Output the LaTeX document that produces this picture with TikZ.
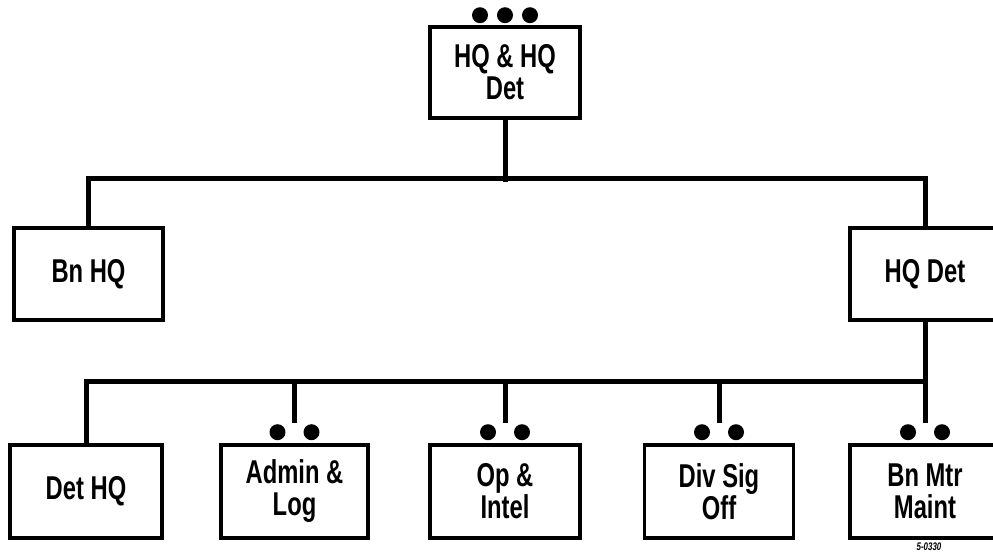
\documentclass[tikz,border=0pt]{standalone}
\usepackage{fontspec}
\setmainfont{Liberation Sans}[FakeStretch=0.72]
\usetikzlibrary{calc}
\begin{document}
\begin{tikzpicture}[x=1pt,y=-1pt,
  unitbox/.style={draw, line width=3.6pt, inner sep=0pt, align=center,
    font=\fontsize{33}{32}\selectfont\bfseries},
  bus/.style={line width=5pt},
  dot/.style={fill=black}]
\clip (0,0) rectangle (993,552);
\fill[white] (0,0) rectangle (993,552);
% nodes
\node[unitbox, minimum width=150pt, minimum height=91pt] (top) at (505,72.5) {HQ \& HQ\\Det};
\node[unitbox, minimum width=149pt, minimum height=92pt] (bnhq) at (88.5,274) {Bn HQ};
\node[unitbox, minimum width=150pt, minimum height=92pt] (hqdet) at (925,274) {HQ Det};
\node[unitbox, minimum width=152pt, minimum height=93pt] (dethq) at (86,491.5) {Det HQ};
\node[unitbox, minimum width=147pt, minimum height=93pt] (admin) at (294.5,491.5) {Admin \&\\Log};
\node[unitbox, minimum width=150pt, minimum height=93pt] (opint) at (505,491.5) {Op \&\\Intel};
\node[unitbox, minimum width=149pt, minimum height=93pt] (divsig) at (719,491.5) {Div Sig\\Off};
\node[unitbox, minimum width=150pt, minimum height=93pt] (bnmtr) at (925,491.5) {Bn Mtr\\Maint};
\node[font=\fontsize{11}{11}\selectfont\itshape\bfseries, inner sep=0pt] (code) at (929,547) {5-0330};
% dots
\foreach \dx in {-25,0,25} \fill[dot] ($(top.north)+(\dx,-10)$) circle (8);
\foreach \n in {admin,opint,divsig,bnmtr}
  \foreach \dx in {-17,17} \fill[dot] ($(\n.north)+(\dx,-11)$) circle (8);
% connectors
\draw[bus] (top.south) -- ++(0,62);
\draw[bus] (bnhq.north) -- ++(0,-48) -| (hqdet.north);
\draw[bus] (hqdet.south) -- ($(bnmtr.north)+(0,-20)$);
\draw[bus] (dethq.north) -- ++(0,-62) -| (hqdet.south);
\foreach \n in {admin,opint,divsig}
  \draw[bus] ($(\n.north)+(0,-20)$) -- ++(0,-42);
\end{tikzpicture}
\end{document}
